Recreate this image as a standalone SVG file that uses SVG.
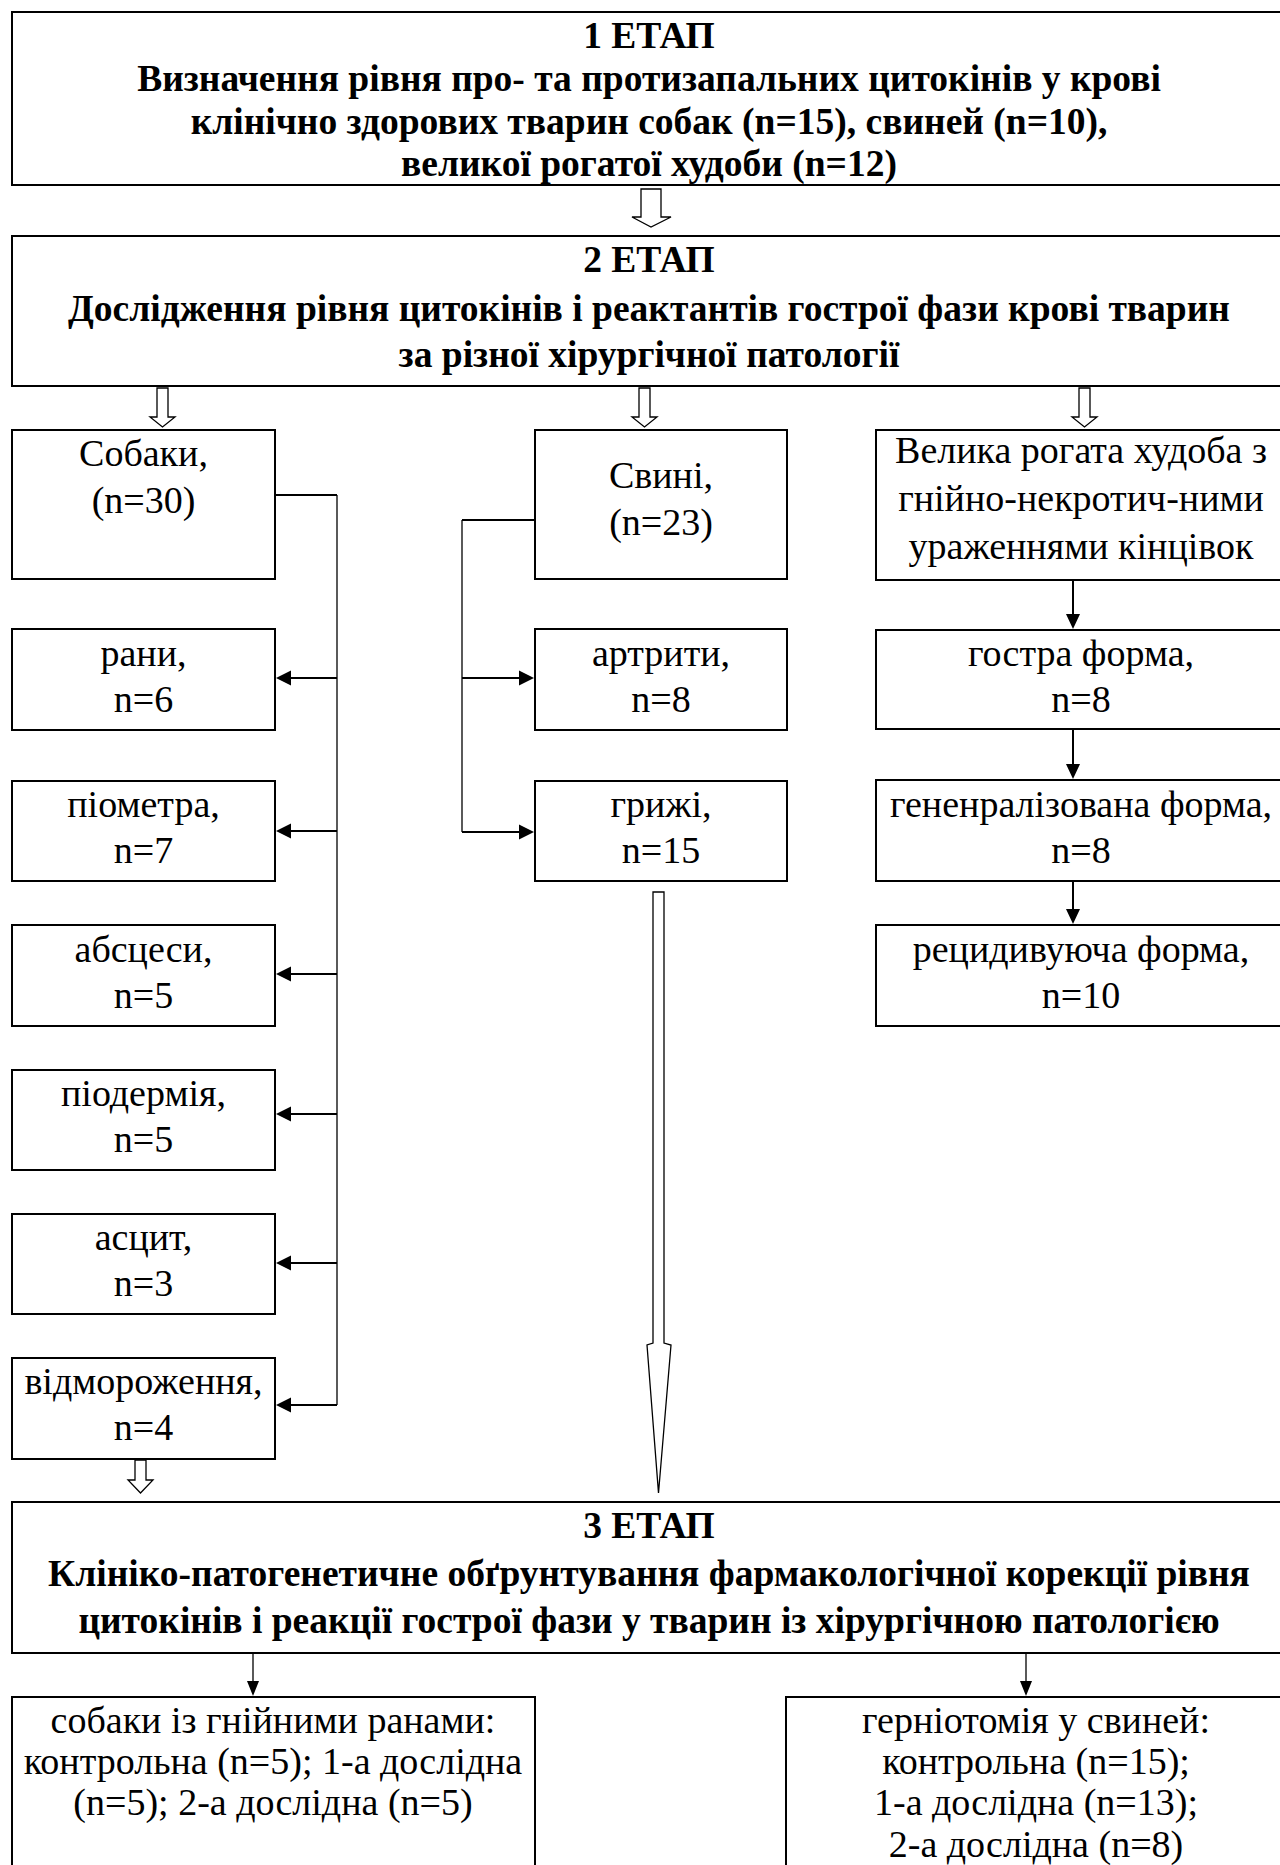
<svg xmlns="http://www.w3.org/2000/svg" width="1280" height="1865" viewBox="0 0 1280 1865">
<style>
.box{fill:#fff;stroke:#000;stroke-width:2}
.t{font-family:"Liberation Serif","Times New Roman",serif;font-size:38px;text-anchor:middle;fill:#000}
.b{font-weight:bold;font-size:37.5px}
.ln{stroke:#000;stroke-width:2;fill:none}
.thin{stroke:#000;stroke-width:1.3;fill:none}
.hol{fill:#fff;stroke:#000;stroke-width:1.3;stroke-linejoin:miter}
.ah{fill:#000}
</style>
<rect width="1280" height="1865" fill="#fff"/>
<g id="stage1">
<rect class="box" x="12" y="12" width="1274" height="173"/>
<text class="t b" x="649" y="48">1 ЕТАП</text>
<text class="t b" x="649" y="91">Визначення рівня про- та протизапальних цитокінів у крові</text>
<text class="t b" x="649" y="134">клінічно здорових тварин собак (n=15), свиней (n=10),</text>
<text class="t b" x="649" y="176">великої рогатої худоби (n=12)</text>
</g>
<g id="stage2">
<rect class="box" x="12" y="236" width="1274" height="150"/>
<text class="t b" x="649" y="272">2 ЕТАП</text>
<text class="t b" x="649" y="321">Дослідження рівня цитокінів і реактантів гострої фази крові тварин</text>
<text class="t b" x="649" y="367">за різної хірургічної патології</text>
</g>
<g id="dogs">
<rect class="box" x="12" y="430" width="263" height="149"/>
<text class="t" x="143.5" y="466">Собаки,</text>
<text class="t" x="143.5" y="513">(n=30)</text>
</g>
<g id="pigs">
<rect class="box" x="535" y="430" width="252" height="149"/>
<text class="t" x="661" y="488">Свині,</text>
<text class="t" x="661" y="535">(n=23)</text>
</g>
<g id="cattle">
<rect class="box" x="876" y="430" width="410" height="150"/>
<text class="t" x="1081" y="463">Велика рогата худоба з</text>
<text class="t" x="1081" y="511">гнійно-некротич-ними</text>
<text class="t" x="1081" y="559">ураженнями кінцівок</text>
</g>
<g id="wounds">
<rect class="box" x="12" y="629" width="263" height="101"/>
<text class="t" x="143.5" y="666">рани,</text>
<text class="t" x="143.5" y="712">n=6</text>
</g>
<g id="pyometra">
<rect class="box" x="12" y="781" width="263" height="100"/>
<text class="t" x="143.5" y="817">піометра,</text>
<text class="t" x="143.5" y="863">n=7</text>
</g>
<g id="abscess">
<rect class="box" x="12" y="925" width="263" height="101"/>
<text class="t" x="143.5" y="962">абсцеси,</text>
<text class="t" x="143.5" y="1008">n=5</text>
</g>
<g id="pyoderma">
<rect class="box" x="12" y="1070" width="263" height="100"/>
<text class="t" x="143.5" y="1106">піодермія,</text>
<text class="t" x="143.5" y="1152">n=5</text>
</g>
<g id="ascites">
<rect class="box" x="12" y="1214" width="263" height="100"/>
<text class="t" x="143.5" y="1250">асцит,</text>
<text class="t" x="143.5" y="1296">n=3</text>
</g>
<g id="frostbite">
<rect class="box" x="12" y="1358" width="263" height="101"/>
<text class="t" x="143.5" y="1394">відмороження,</text>
<text class="t" x="143.5" y="1440">n=4</text>
</g>
<g id="arthritis">
<rect class="box" x="535" y="629" width="252" height="101"/>
<text class="t" x="661" y="666">артрити,</text>
<text class="t" x="661" y="712">n=8</text>
</g>
<g id="hernia">
<rect class="box" x="535" y="781" width="252" height="100"/>
<text class="t" x="661" y="817">грижі,</text>
<text class="t" x="661" y="863">n=15</text>
</g>
<g id="acute">
<rect class="box" x="876" y="630" width="410" height="99"/>
<text class="t" x="1081" y="666">гостра форма,</text>
<text class="t" x="1081" y="712">n=8</text>
</g>
<g id="generalized">
<rect class="box" x="876" y="780" width="410" height="101"/>
<text class="t" x="1081" y="817">гененралізована форма,</text>
<text class="t" x="1081" y="863">n=8</text>
</g>
<g id="recurrent">
<rect class="box" x="876" y="925" width="410" height="101"/>
<text class="t" x="1081" y="962">рецидивуюча форма,</text>
<text class="t" x="1081" y="1008">n=10</text>
</g>
<g id="stage3">
<rect class="box" x="12" y="1502" width="1274" height="151"/>
<text class="t b" x="649" y="1538">3 ЕТАП</text>
<text class="t b" x="649" y="1586">Клініко-патогенетичне обґрунтування фармакологічної корекції рівня</text>
<text class="t b" x="649" y="1633">цитокінів і реакції гострої фази у тварин із хірургічною патологією</text>
</g>
<g id="dogsTreatment">
<rect class="box" x="12" y="1697" width="523" height="220"/>
<text class="t" x="273" y="1733">собаки із гнійними ранами:</text>
<text class="t" x="273" y="1774">контрольна (n=5); 1-а дослідна</text>
<text class="t" x="273" y="1815">(n=5); 2-а дослідна (n=5)</text>
</g>
<g id="pigsTreatment">
<rect class="box" x="786" y="1697" width="500" height="220"/>
<text class="t" x="1036" y="1733">герніотомія у свиней:</text>
<text class="t" x="1036" y="1774">контрольна (n=15);</text>
<text class="t" x="1036" y="1815">1-а дослідна (n=13);</text>
<text class="t" x="1036" y="1857">2-а дослідна (n=8)</text>
</g>
<g id="connectors">
<path class="hol" d="M641,189 H661 V217 H671 L651,227 L632,217 H641 Z"/>
<path class="hol" d="M157,388 H168 V417 H175 L162.5,427 L150,417 H157 Z"/>
<path class="hol" d="M639,388 H650 V417 H657 L644.5,427 L632,417 H639 Z"/>
<path class="hol" d="M1079,388 H1090 V417 H1097 L1084.5,427 L1072,417 H1079 Z"/>
<path class="hol" d="M135,1460 H146 V1480 H153 L140.5,1493 L128,1480 H135 Z"/>
<path class="hol" d="M653,892 H664 V1343 L671,1345 L658.5,1493 L647,1345 L653,1343 Z"/>
<path class="ln" d="M275,495 H337"/>
<path class="thin" d="M337,495 V1405"/>
<path class="ln" d="M337,678 H289"/><path class="ah" d="M276,678 L291,670.5 V685.5 Z"/>
<path class="ln" d="M337,831 H289"/><path class="ah" d="M276,831 L291,823.5 V838.5 Z"/>
<path class="ln" d="M337,974 H289"/><path class="ah" d="M276,974 L291,966.5 V981.5 Z"/>
<path class="ln" d="M337,1114 H289"/><path class="ah" d="M276,1114 L291,1106.5 V1121.5 Z"/>
<path class="ln" d="M337,1263 H289"/><path class="ah" d="M276,1263 L291,1255.5 V1270.5 Z"/>
<path class="ln" d="M337,1405 H289"/><path class="ah" d="M276,1405 L291,1397.5 V1412.5 Z"/>
<path class="ln" d="M535,520 H462"/>
<path class="thin" d="M462,520 V832"/>
<path class="ln" d="M462,678 H521"/><path class="ah" d="M534,678 L519,670.5 V685.5 Z"/>
<path class="ln" d="M462,832 H521"/><path class="ah" d="M534,832 L519,824.5 V839.5 Z"/>
<path class="ln" d="M1073,580 V617"/><path class="ah" d="M1073,629 L1066,614 H1080 Z"/>
<path class="ln" d="M1073,729 V767"/><path class="ah" d="M1073,779 L1066,764 H1080 Z"/>
<path class="ln" d="M1073,881 V912"/><path class="ah" d="M1073,924 L1066,909 H1080 Z"/>
<path class="thin" d="M253,1653 V1684"/><path class="ah" d="M253,1696 L247,1681 H259 Z"/>
<path class="thin" d="M1026,1653 V1684"/><path class="ah" d="M1026,1696 L1020,1681 H1032 Z"/>
</g>
</svg>
